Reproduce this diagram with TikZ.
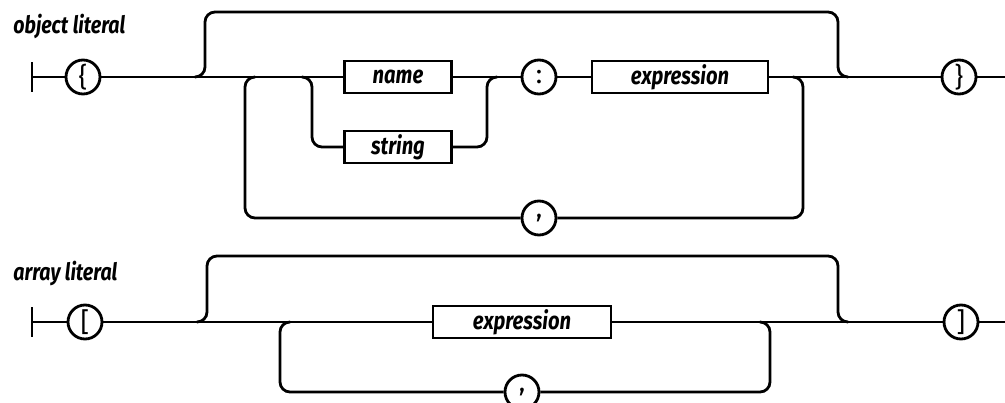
\documentclass[tikz,border=0pt]{standalone}
\usepackage{fontspec}
\setmainfont{Fira Sans}
\newfontfamily\railfont[FakeStretch=0.82]{Fira Sans}
\usetikzlibrary{calc}

\tikzset{
  term/.style={draw,circle,inner sep=0pt,minimum size=34*0.025cm,
    font=\fontsize{19}{19}\selectfont},
  nonterm/.style={draw,rectangle,inner sep=0pt,minimum height=32*0.025cm,
    font=\railfont\bfseries\itshape\fontsize{17.5}{17.5}\selectfont},
  rail/.style={rounded corners=0.25cm},
  title/.style={anchor=base west,inner sep=0pt,
    font=\railfont\bfseries\itshape\fontsize{17}{17}\selectfont}
}

\begin{document}
\begin{tikzpicture}[x=0.025cm,y=-0.025cm,line width=2pt]
\useasboundingbox (0,0) rectangle (1005,402);

% object literal
\node[title] (otitle) at (12,33) {object literal};
\draw (32,62) -- (32,92);
\coordinate (ostart) at (32,77);
\coordinate (oend) at (1005,77);
\node[term] (oopen) at (83,77) {\{};
\node[nonterm,minimum width=107*0.025cm] (oname) at (398,77) {name};
\node[nonterm,minimum width=107*0.025cm] (ostring) at (398,147) {string};
\node[term] (ocolon) at (539,77) {:};
\node[nonterm,minimum width=176*0.025cm] (oexpr) at (680,77) {expression};
\node[term] (ocomma) at (539,218) {,};
\node[term] (oclose) at (959,77) {\}};
\draw (ostart) -- (oopen) -- (oname);
\draw (oname) -- (ocolon) -- (oexpr) -- (oclose) -- (oend);
\draw[rail] (195,77) -| (205,12) -| (838,77) -- (848,77);
\draw[rail] (302,77) -| (312,147) -- (ostring);
\draw[rail] (ostring) -| (487,77) -- (497,77);
\draw[rail] (793,77) -| (803,218) -- (ocomma);
\draw[rail] (ocomma) -| (245,77) -- (255,77);

% array literal
\node[title] (atitle) at (12,280) {array literal};
\draw (32,307) -- (32,337);
\coordinate (astart) at (32,322);
\coordinate (aend) at (1005,322);
\node[term] (aopen) at (85,322) {[};
\node[nonterm,minimum width=178*0.025cm] (aexpr) at (522,322) {expression};
\node[term] (acomma) at (522,392) {,};
\node[term] (aclose) at (961,322) {]};
\draw (astart) -- (aopen) -- (aexpr) -- (aclose) -- (aend);
\draw[rail] (197,322) -| (207,256) -| (838,322) -- (848,322);
\draw[rail] (760,322) -| (770,392) -- (acomma);
\draw[rail] (acomma) -| (280,322) -- (290,322);
\end{tikzpicture}
\end{document}
